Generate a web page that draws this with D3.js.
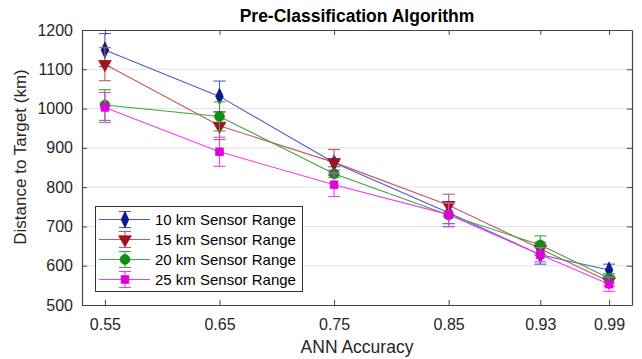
<!DOCTYPE html>
<html><head><meta charset="utf-8">
<script src="https://cdn.jsdelivr.net/npm/d3@7"></script>
<style>
body{margin:0;background:#fff;}
text{font-family:"Liberation Sans",Arial,sans-serif;}
</style></head>
<body><svg id="c" width="642" height="359"></svg>
<script>
const xValues = [0.55, 0.65, 0.75, 0.85, 0.93, 0.99];
const xTickLabels = ["0.55","0.65","0.75","0.85","0.93","0.99"];
const yTicks = [500,600,700,800,900,1000,1100,1200];
const seriesNames = ["10 km Sensor Range","15 km Sensor Range","20 km Sensor Range","25 km Sensor Range"];
const s10 = [1149, 1031, 862, 735, 628, 589];
const s15 = [1113, 956, 863, 754, 643, 560];
const s20 = [1009, 980, 834, 729, 653, 568];
const s25 = [1003, 890, 806, 730, 628, 553];
const e10 = [42, 39, 10, 28, 24, 15];
const e15 = [42, 35, 33, 28, 17, 12];
const e20 = [39, 37, 9, 30, 23, 12];
const e25 = [38, 37, 30, 30, 18, 18];

const lineColors = ["#4d5cc4","#c25a5f","#3fa63f","#ee3fee"];
const markColors = ["#0b1a8a","#9e1022","#138a13","#dd00dd"];
const shapes = ["diamond","triangleDown","circle","square"];
const values = [s10,s15,s20,s25];
const errs = [e10,e15,e20,e25];

const svg = d3.select("#c");
const L=82, R=632, T=30, B=305;
const x = d3.scaleLinear().domain([0.53,1.01]).range([L,R]);
const y = d3.scaleLinear().domain([500,1200]).range([B,T]);

// grid
svg.append("g").selectAll("line").data(yTicks.slice(1,-1)).join("line")
  .attr("x1",L).attr("x2",R).attr("y1",d=>y(d)).attr("y2",d=>y(d))
  .attr("stroke","#e3e3e3").attr("stroke-width",1);

// axes
const axC="#444";
const bx = svg.append("g").attr("transform",`translate(0,${B})`)
  .call(d3.axisBottom(x).tickValues(xValues).tickFormat((d,i)=>xTickLabels[i]).tickSizeInner(-5).tickSizeOuter(0).tickPadding(14));
const tx = svg.append("g").attr("transform",`translate(0,${T})`)
  .call(d3.axisTop(x).tickValues(xValues).tickFormat("").tickSizeInner(-5).tickSizeOuter(0));
const ly = svg.append("g").attr("transform",`translate(${L},0)`)
  .call(d3.axisLeft(y).tickValues(yTicks).tickFormat(d3.format("d")).tickSizeInner(-5).tickSizeOuter(0).tickPadding(9));
const ry = svg.append("g").attr("transform",`translate(${R},0)`)
  .call(d3.axisRight(y).tickValues(yTicks).tickFormat("").tickSizeInner(-5).tickSizeOuter(0));
[bx,tx,ly,ry].forEach(g=>{
  g.select(".domain").attr("stroke",axC).attr("stroke-width",1.2);
  g.selectAll(".tick line").attr("stroke",axC);
  g.selectAll(".tick text").attr("fill","#262626").style("font-size","16px").style("font-family","'Liberation Sans',Arial,sans-serif");
});

function sym(shape){
  const m={diamond:d3.symbolDiamond,triangleDown:d3.symbolTriangle,circle:d3.symbolCircle,square:d3.symbolSquare};
  const sz={diamond:62,triangleDown:70,circle:75,square:60};
  return d3.symbol().type(m[shape]).size(sz[shape])();
}
function symT(shape){
  return (shape==="triangleDown"?" rotate(180)":"")+(shape==="diamond"?" scale(0.9,1.1)":"");
}

values.forEach((vals,si)=>{
  const g = svg.append("g");
  const line = d3.line().x((d,i)=>x(xValues[i])).y(d=>y(d));
  g.append("path").datum(vals).attr("d",line).attr("fill","none")
    .attr("stroke",lineColors[si]).attr("stroke-width",1.1);
  vals.forEach((v,i)=>{
    const cx=x(xValues[i]), e=errs[si][i];
    g.append("line").attr("x1",cx).attr("x2",cx).attr("y1",y(v-e)).attr("y2",y(v+e)).attr("stroke",lineColors[si]).attr("stroke-width",1.1);
    [v-e,v+e].forEach(w=>g.append("line").attr("x1",cx-6).attr("x2",cx+6).attr("y1",y(w)).attr("y2",y(w)).attr("stroke",lineColors[si]).attr("stroke-width",1.1));
    g.append("path").attr("d",sym(shapes[si]))
      .attr("transform",`translate(${cx},${y(v)})${symT(shapes[si])}`)
      .attr("fill",markColors[si]).attr("stroke",markColors[si]).attr("stroke-width",0.8);
  });
});

// title & labels
svg.append("text").attr("x",357).attr("y",22).attr("text-anchor","middle")
  .style("font-size","17.5px").style("font-weight","bold").attr("fill","#000").text("Pre-Classification Algorithm");
svg.append("text").attr("x",357).attr("y",353).attr("text-anchor","middle")
  .style("font-size","17.5px").attr("fill","#262626").text("ANN Accuracy");
svg.append("text").attr("transform","translate(26,157) rotate(-90)").attr("text-anchor","middle")
  .style("font-size","17px").attr("fill","#262626").text("Distance to Target (km)");

// legend
const lg = svg.append("g");
lg.append("rect").attr("x",95.5).attr("y",206.5).attr("width",207).attr("height",85)
  .attr("fill","#fff").attr("stroke","#333").attr("stroke-width",1);
seriesNames.forEach((n,i)=>{
  const yy = 219.5 + i*20;
  lg.append("line").attr("x1",99).attr("x2",150).attr("y1",yy).attr("y2",yy).attr("stroke",lineColors[i]).attr("stroke-width",1.1);
  lg.append("line").attr("x1",125).attr("x2",125).attr("y1",yy-8).attr("y2",yy+8).attr("stroke",lineColors[i]).attr("stroke-width",1.1);
  [yy-8,yy+8].forEach(w=>lg.append("line").attr("x1",119).attr("x2",131).attr("y1",w).attr("y2",w).attr("stroke",lineColors[i]).attr("stroke-width",1.1));
  lg.append("path").attr("d",sym(shapes[i]))
    .attr("transform",`translate(125,${yy})${symT(shapes[i])}`)
    .attr("fill",markColors[i]).attr("stroke",markColors[i]).attr("stroke-width",0.8);
  lg.append("text").attr("x",155).attr("y",yy+5.5).style("font-size","15px").attr("fill","#000").text(n);
});
</script></body></html>
